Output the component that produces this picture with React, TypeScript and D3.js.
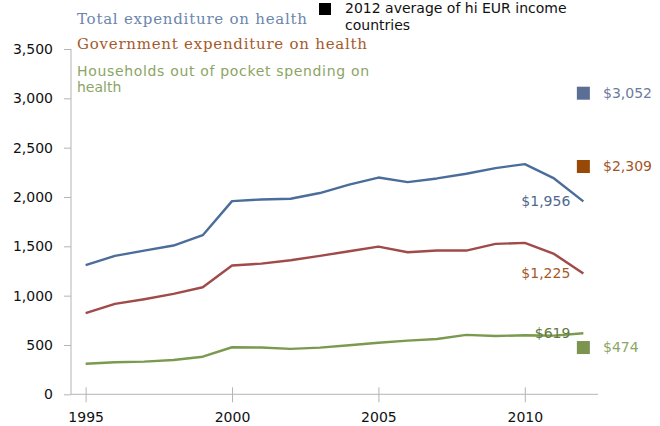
import { useEffect, useRef } from "react";
import * as d3 from "d3";

const years = [1995, 1996, 1997, 1998, 1999, 2000, 2001, 2002, 2003, 2004, 2005, 2006, 2007, 2008, 2009, 2010, 2011, 2012];
const totalSpend = [1309, 1403, 1457, 1508, 1613, 1958, 1975, 1982, 2040, 2125, 2197, 2151, 2188, 2235, 2293, 2333, 2188, 1956];
const govSpend = [822, 916, 964, 1018, 1085, 1305, 1325, 1359, 1403, 1450, 1497, 1440, 1457, 1457, 1525, 1535, 1423, 1225];
const oopSpend = [310, 325, 331, 348, 381, 477, 474, 460, 473, 497, 523, 544, 561, 602, 591, 598, 595, 619];
const avgLabels = ["$3,052", "$2,309", "$474"];
const avgValues = [3052, 2309, 474];
const endLabels = ["$1,956", "$1,225", "$619"];
const yTicks = [0, 500, 1000, 1500, 2000, 2500, 3000, 3500];
const xTicks = [1995, 2000, 2005, 2010];

const WIDTH = 660;
const HEIGHT = 426;
const SANS = "'DejaVu Sans', sans-serif";
const SERIF = "'DejaVu Serif', serif";

const series = [
  { values: totalSpend, line: "#4b6d9a", square: "#5b6e94", avgText: "#6a7ca0", endText: "#51678f" },
  { values: govSpend, line: "#a04a4a", square: "#984807", avgText: "#a3561f", endText: "#a5592a" },
  { values: oopSpend, line: "#7a9a4e", square: "#7b9450", avgText: "#8aa765", endText: "#637a3f" },
];

export default function App() {
  const svgRef = useRef<SVGSVGElement>(null);

  useEffect(() => {
    document.body.style.margin = "0";
    const svg = d3.select(svgRef.current);
    svg.selectAll("*").remove();

    const x = d3.scaleLinear().domain([1994.5, 2012.5]).range([71, 598]);
    const y = d3.scaleLinear().domain([0, 3500]).range([394.3, 49]);
    const axisColor = "#b4b4b4";

    // y axis
    const yAxis = svg.append("g").attr("transform", "translate(71,0)")
      .call(d3.axisLeft(y).tickValues(yTicks).tickSize(7).tickPadding(11).tickFormat((v) => d3.format(",")(Number(v))));
    yAxis.select(".domain").attr("stroke", axisColor).attr("d", `M0,${y(3500)}V${y(0)}`);
    yAxis.selectAll(".tick line").attr("stroke", axisColor);
    yAxis.selectAll("text").attr("font-family", SANS).attr("font-size", 14).attr("fill", "#111");

    // x axis
    const xAxis = svg.append("g").attr("transform", `translate(0,${y(0)})`)
      .call(d3.axisBottom(x).tickValues(xTicks).tickSize(8).tickPadding(10).tickFormat((v) => String(v)));
    xAxis.select(".domain").attr("stroke", axisColor).attr("d", `M${x.range()[0]},0H${x.range()[1]}`);
    xAxis.selectAll(".tick line").attr("stroke", axisColor).attr("y1", -7);
    xAxis.selectAll("text").attr("font-family", SANS).attr("font-size", 14).attr("fill", "#111");

    const line = d3.line<number>().x((_, i) => x(years[i])).y((d) => y(d));
    const last = years.length - 1;

    series.forEach((s, i) => {
      svg.append("path").datum(s.values).attr("d", line).attr("fill", "none")
        .attr("stroke", s.line).attr("stroke-width", 2.4).attr("stroke-linejoin", "round");

      svg.append("text").attr("x", x(years[last]) - 13).attr("y", y(s.values[last])).attr("dy", "0.35em")
        .attr("text-anchor", "end").attr("font-family", SANS).attr("font-size", 14).attr("fill", s.endText)
        .text(endLabels[i]);

      svg.append("rect").attr("x", x(years[last]) - 6.5).attr("y", y(avgValues[i]) - 6.5)
        .attr("width", 13).attr("height", 13).attr("fill", s.square);
      svg.append("text").attr("x", 603).attr("y", y(avgValues[i])).attr("dy", "0.35em")
        .attr("font-family", SANS).attr("font-size", 14).attr("fill", s.avgText)
        .text(avgLabels[i]);
    });

    // legend
    svg.append("text").attr("x", 77).attr("y", 24).attr("font-family", SERIF).attr("font-size", 15)
      .attr("fill", "#6b86ad").attr("textLength", 230).attr("lengthAdjust", "spacing").text("Total expenditure on health");
    svg.append("text").attr("x", 77).attr("y", 49).attr("font-family", SERIF).attr("font-size", 15)
      .attr("fill", "#a65a2c").attr("textLength", 290).attr("lengthAdjust", "spacing").text("Government expenditure on health");
    svg.append("text").attr("x", 77).attr("y", 76).attr("font-family", SANS).attr("font-size", 14)
      .attr("fill", "#8ba565").attr("textLength", 292).attr("lengthAdjust", "spacing").text("Households out of pocket spending on");
    svg.append("text").attr("x", 77).attr("y", 92).attr("font-family", SANS).attr("font-size", 14)
      .attr("fill", "#8ba565").text("health");

    svg.append("rect").attr("x", 319).attr("y", 3).attr("width", 12).attr("height", 12).attr("fill", "#000");
    svg.append("text").attr("x", 345).attr("y", 13).attr("font-family", SANS).attr("font-size", 14)
      .attr("fill", "#111").text("2012 average of hi EUR income");
    svg.append("text").attr("x", 345).attr("y", 30).attr("font-family", SANS).attr("font-size", 14)
      .attr("fill", "#111").text("countries");
  }, []);

  return (
    <svg ref={svgRef} width={WIDTH} height={HEIGHT}
      style={{ position: "absolute", left: 0, top: 0, display: "block", background: "#fff" }} />
  );
}
